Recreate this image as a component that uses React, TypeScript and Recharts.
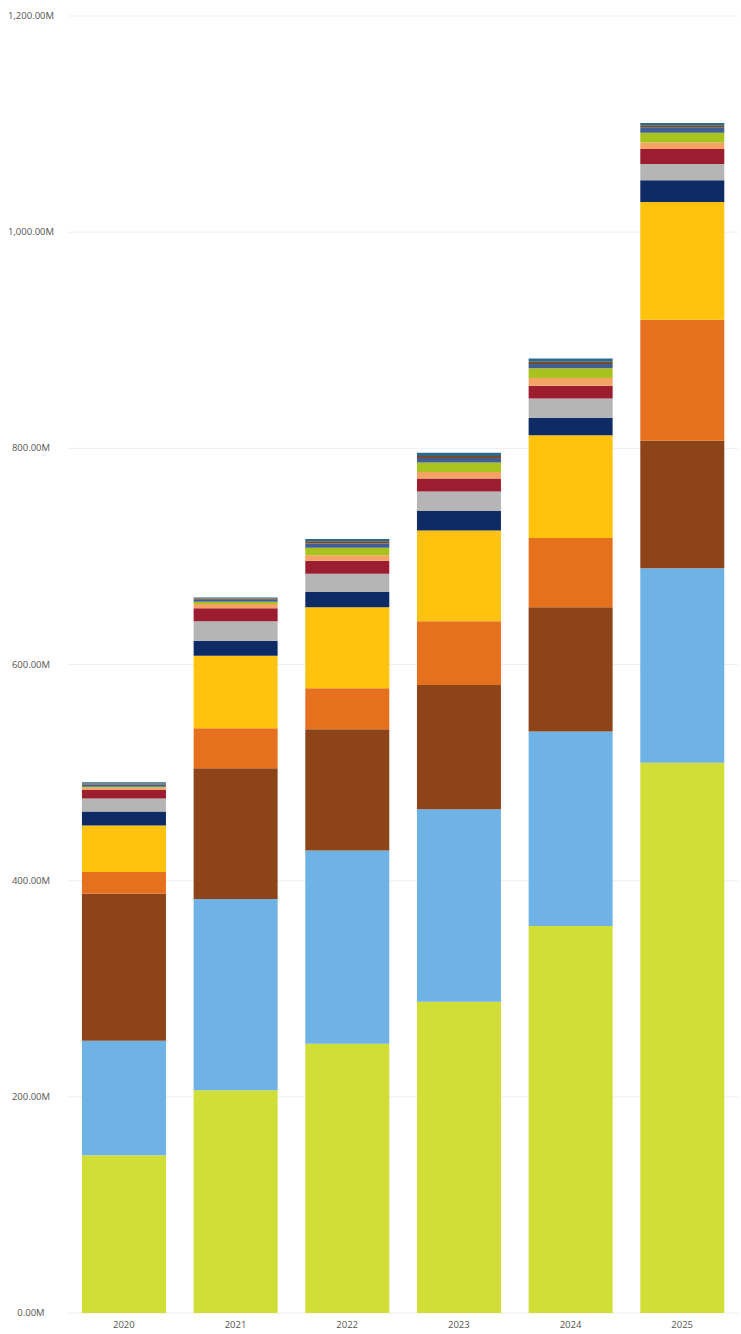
import { Bar, BarChart, CartesianGrid, XAxis, YAxis } from "recharts";

const years = ["2020", "2021", "2022", "2023", "2024", "2025"];

// stacked segments, bottom to top (millions)
const seriesA = [146, 206, 249, 288, 358, 509];
const seriesB = [106, 177, 179, 178, 180, 180];
const seriesC = [136, 121, 112, 115, 115, 118];
const seriesD = [20, 37, 38, 59, 64, 112];
const seriesE = [43, 67, 75, 84, 95, 109];
const seriesF = [13, 14, 14, 18, 16, 20];
const seriesG = [12, 18, 17, 18, 18, 15];
const seriesH = [8, 12, 12, 12, 12, 14];
const seriesI = [2, 4, 5, 6, 7, 6];
const seriesJ = [1, 2, 7, 9, 9, 9];
const seriesK = [2, 2, 4, 4, 4, 5];
const seriesL = [1, 1, 2, 2, 2, 2];
const seriesM = [1, 1, 2, 3, 3, 2];

const yTicks = [0, 200, 400, 600, 800, 1000, 1200];

const series = [
  { key: "a", values: seriesA, color: "#d0de37" },
  { key: "b", values: seriesB, color: "#6fb3e6" },
  { key: "c", values: seriesC, color: "#8c4418" },
  { key: "d", values: seriesD, color: "#e5711f" },
  { key: "e", values: seriesE, color: "#fec20f" },
  { key: "f", values: seriesF, color: "#0f2b66" },
  { key: "g", values: seriesG, color: "#b5b5b5" },
  { key: "h", values: seriesH, color: "#9c1c30" },
  { key: "i", values: seriesI, color: "#f4a364" },
  { key: "j", values: seriesJ, color: "#a9c31e" },
  { key: "k", values: seriesK, color: "#415f95" },
  { key: "l", values: seriesL, color: "#7a4a24" },
  { key: "m", values: seriesM, color: "#2c6a8a" },
];

const data = years.map((year, i) => {
  const row: Record<string, string | number> = { year };
  series.forEach((s) => {
    row[s.key] = s.values[i];
  });
  return row;
});

const fmt = (v: number) =>
  `${v.toLocaleString("en-US", { minimumFractionDigits: 2, maximumFractionDigits: 2 })}M`;

function YTick({ y, payload }: { y?: number; payload?: { value: number } }) {
  return (
    <text x={31} y={y} dy={3} textAnchor="middle" fontSize={9.5} fill="#555" fontFamily="Open Sans">
      {fmt(payload?.value ?? 0)}
    </text>
  );
}

export default function App() {
  return (
    <div style={{ position: "absolute", left: 0, top: 0, background: "#fff" }}>
      <BarChart
        width={741}
        height={1334}
        data={data}
        margin={{ top: 16, right: 3, left: 0, bottom: 1 }}
        barCategoryGap="12.5%"
      >
        <CartesianGrid vertical={false} stroke="#efefef" />
        <XAxis
          dataKey="year"
          height={20}
          tickLine={false}
          axisLine={false}
          tick={{ fontSize: 9.5, fill: "#555", fontFamily: "Open Sans" }}
          interval={0}
        />
        <YAxis
          width={68}
          domain={[0, 1200]}
          ticks={yTicks}
          tickLine={false}
          axisLine={false}
          tick={<YTick />}
        />
        {series.map((s) => (
          <Bar key={s.key} dataKey={s.key} stackId="s" fill={s.color} isAnimationActive={false} />
        ))}
      </BarChart>
    </div>
  );
}
